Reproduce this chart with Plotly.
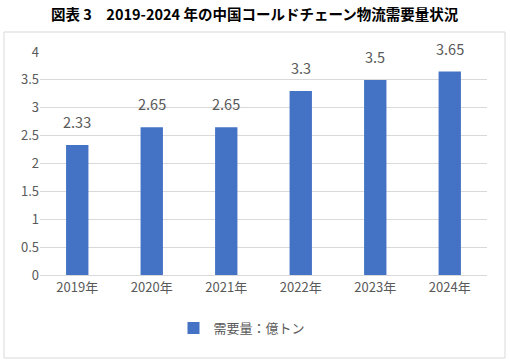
import plotly.graph_objects as go

years = ["2019年", "2020年", "2021年", "2022年", "2023年", "2024年"]
demand = [2.33, 2.65, 2.65, 3.3, 3.5, 3.65]
labels = ["2.33", "2.65", "2.65", "3.3", "3.5", "3.65"]
series_name = "需要量：億トン"
title_text = "図表 3　2019-2024 年の中国コールドチェーン物流需要量状況"

W, H = 510, 364
L, R, T, B = 40, 23, 52, 89
pw, ph = W - L - R, H - T - B

def px_to_paper_x(px):
    return (px - L) / pw

def px_to_paper_y(py):
    return (H - B - py) / ph

font = "Noto Sans CJK JP"
gray = "#595959"

fig = go.Figure()
fig.add_trace(go.Bar(
    x=years, y=demand, name=series_name,
    marker=dict(color="#4472C4", line=dict(width=0)),
    cliponaxis=False,
))

annots = [dict(text="<b>" + title_text + "</b>", xref="paper", yref="paper",
               x=px_to_paper_x(255), y=px_to_paper_y(14),
               xanchor="center", yanchor="middle", showarrow=False,
               font=dict(size=14.5, color="black", family=font))]
for xv, yv, lab in zip(years, demand, labels):
    annots.append(dict(text=lab, x=xv, y=yv, xref="x", yref="y",
                       xanchor="center", yanchor="bottom", yshift=11,
                       showarrow=False,
                       font=dict(size=14.5, color=gray, family=font)))

fig.update_layout(
    width=W, height=H,
    margin=dict(l=L, r=R, t=T, b=B, pad=0, autoexpand=False),
    paper_bgcolor="white", plot_bgcolor="white",
    bargap=0.7,
    showlegend=True,
    legend=dict(orientation="h", x=px_to_paper_x(242), xanchor="center",
                y=px_to_paper_y(328), yanchor="middle", itemwidth=30,
                font=dict(size=13, color=gray, family=font)),
    annotations=annots,
    shapes=[dict(type="rect", xref="paper", yref="paper",
                 x0=px_to_paper_x(4), x1=px_to_paper_x(505),
                 y0=px_to_paper_y(358), y1=px_to_paper_y(32),
                 line=dict(color="#d9d9d9", width=1), layer="below")],
)
fig.update_xaxes(showgrid=False, showline=True, linecolor="#d9d9d9", linewidth=1,
                 ticks="", tickfont=dict(size=13, color=gray, family=font))
fig.update_yaxes(range=[0, 4], dtick=0.5, showgrid=True, gridcolor="#d9d9d9",
                 zeroline=False, showline=False, ticks="",
                 tickfont=dict(size=13, color=gray, family=font))

fig.write_html("out.html", config={"displayModeBar": False},
               post_script="document.body.style.margin='0';document.body.style.overflow='hidden';")
